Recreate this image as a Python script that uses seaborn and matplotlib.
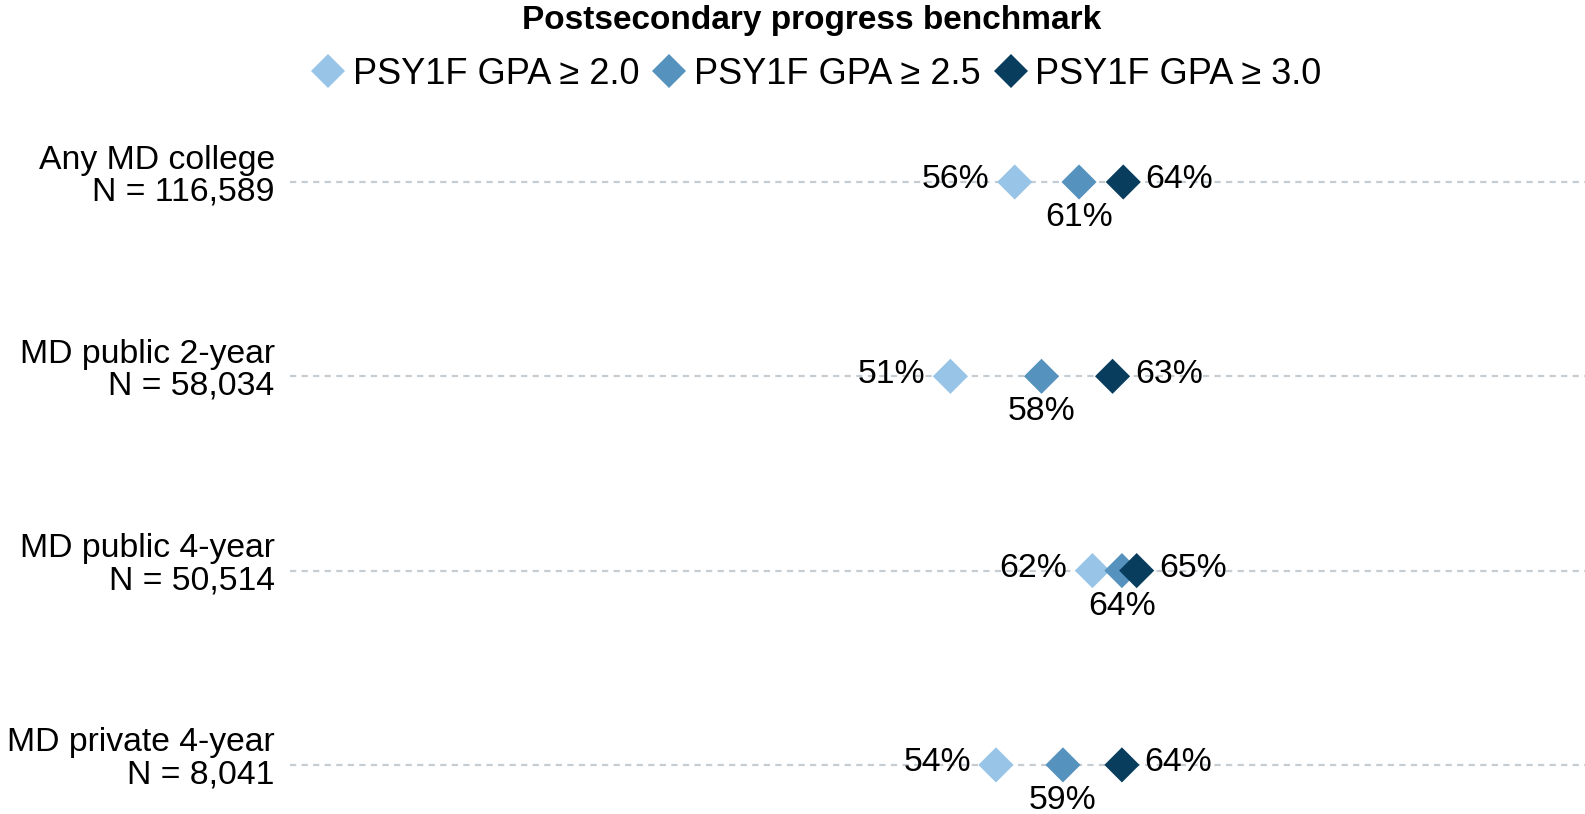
import numpy as np
import pandas as pd
import matplotlib
matplotlib.use("Agg")
import matplotlib.pyplot as plt
import matplotlib.transforms as mtransforms
from matplotlib import font_manager as fm
from matplotlib.lines import Line2D
import seaborn as sns

# ======================================
# DATA
# ======================================

groups = ["Any MD college", "MD public 2-year", "MD public 4-year", "MD private 4-year"]
group_n = ["116,589", "58,034", "50,514", "8,041"]

benchmarks = ["PSY1F GPA \u2265 2.0", "PSY1F GPA \u2265 2.5", "PSY1F GPA \u2265 3.0"]

gpa_20 = [55.8, 51.0, 61.6, 54.4]
gpa_25 = [60.6, 57.8, 63.8, 59.4]
gpa_30 = [63.9, 63.1, 64.9, 63.8]

colors = ["#97c4e7", "#5592be", "#083d5e"]

# long format table for seaborn
rows = []
for bench, vals in zip(benchmarks, [gpa_20, gpa_25, gpa_30]):
    for i, g in enumerate(groups):
        rows.append({"group": g, "row": i, "benchmark": bench, "pct": vals[i]})
df = pd.DataFrame(rows)

# ======================================
# FONTS (Arial look-alike)
# ======================================


def pick_font(filename, size, weight="normal"):
    for path in fm.findSystemFonts():
        if path.endswith(filename):
            return fm.FontProperties(fname=path, size=size)
    return fm.FontProperties(family="Liberation Sans", size=size, weight=weight)


fp = pick_font("LiberationSans-Regular.ttf", 24.3)
fp_leg = pick_font("LiberationSans-Regular.ttf", 26)
fp_bold = pick_font("LiberationSans-Bold.ttf", 24, "bold")

# ======================================
# PLOT
# ======================================

sns.set_theme(style="white")
plt.rcParams["font.family"] = ["Liberation Sans", "DejaVu Sans"]
plt.rcParams["text.color"] = "black"
plt.rcParams["ytick.color"] = "black"

W, H = 1585, 814
fig = plt.figure(figsize=(W / 100, H / 100), dpi=100)

ax_left, ax_top = 290, 110
ax = fig.add_axes([ax_left / W, 0, 1 - ax_left / W, 1 - ax_top / H])

row0, row_step = 182, 194.3
ax.set_ylim((H - row0) / row_step, (ax_top - row0) / row_step)
px_per_pct, zero_px = 13.4, 267
ax.set_xlim((ax_left - zero_px) / px_per_pct, (W - zero_px) / px_per_pct)

for i in range(len(groups)):
    ax.axhline(i, color="#c5ccd2", lw=1.6, dashes=(2.8, 2.4), zorder=0)

sns.scatterplot(
    data=df, x="pct", y="row", hue="benchmark", hue_order=benchmarks,
    palette=colors, marker="D", s=320, linewidth=0, legend=False,
    ax=ax, zorder=3,
)

# value labels
for i in range(len(groups)):
    ax.annotate(f"{round(gpa_20[i])}%", (gpa_20[i], i), xytext=(-18, 1.5),
                textcoords="offset points", ha="right", va="center", fontproperties=fp)
    ax.annotate(f"{round(gpa_25[i])}%", (gpa_25[i], i), xytext=(0, -14.5),
                textcoords="offset points", ha="center", va="top", fontproperties=fp)
    ax.annotate(f"{round(gpa_30[i])}%", (gpa_30[i], i), xytext=(16, 1.5),
                textcoords="offset points", ha="left", va="center", fontproperties=fp)

ax.set_yticks(range(len(groups)))
ax.set_yticklabels([f"{g}\nN = {n}" for g, n in zip(groups, group_n)],
                   fontproperties=fp, linespacing=1.04)
ax.tick_params(axis="y", length=0, pad=11)
shift = mtransforms.ScaledTranslation(0, 10 / 100, fig.dpi_scale_trans)
for lab in ax.get_yticklabels():
    lab.set_transform(lab.get_transform() + shift)

ax.set_xticks([])
ax.set_xlabel("")
ax.set_ylabel("")
sns.despine(ax=ax, left=True, bottom=True)

# legend
handles = [Line2D([], [], marker="D", linestyle="", markersize=17.5,
                  markerfacecolor=c, markeredgewidth=0) for c in colors]
fig.legend(handles, benchmarks, loc="center", bbox_to_anchor=(816 / W, 1 - 74 / H),
           ncol=3, frameon=False, prop=fp_leg, handlelength=1.0,
           handletextpad=0.19, columnspacing=0.32, borderaxespad=0)
fig.text(812 / W, 1 - 20 / H, "Postsecondary progress benchmark",
         ha="center", va="center", fontproperties=fp_bold)

plt.savefig("out.png", dpi=100)
plt.close()
